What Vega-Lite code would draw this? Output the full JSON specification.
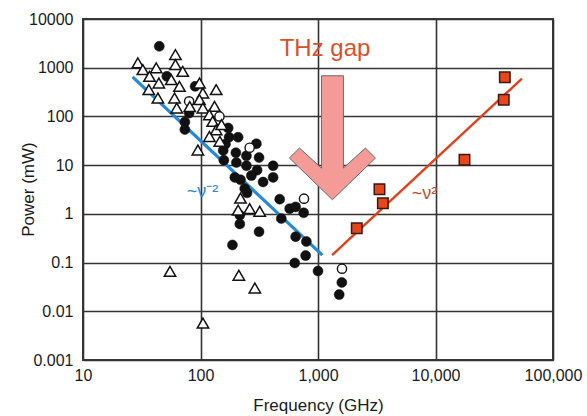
{
  "$schema": "https://vega.github.io/schema/vega-lite/v6.json",
  "width": 470,
  "height": 341,
  "autosize": "none",
  "padding": {"left": 83, "top": 19, "right": 34, "bottom": 56},
  "background": "white",
  "config": {
    "view": {"stroke": "#3a3a3a", "strokeWidth": 2},
    "font": "Liberation Sans",
    "axis": {
      "grid": true, "gridColor": "#333", "gridWidth": 1.6, "gridOpacity": 1,
      "domain": false, "ticks": false, "tickSize": 0,
      "labelFont": "Liberation Sans", "labelFontSize": 16, "labelColor": "#1a1a1a",
      "titleFont": "Liberation Sans", "titleFontSize": 17, "titleFontWeight": "normal", "titleColor": "#1a1a1a"
    }
  },
  "datasets": {
    "lines": [
      {"freq": 26.4, "power": 647, "series": "low"},
      {"freq": 1089, "power": 0.1426, "series": "low"},
      {"freq": 1318, "power": 0.1426, "series": "high"},
      {"freq": 54400, "power": 597, "series": "high"}
    ],
    "arrow": [{"freq": 1327, "power": 36.5}],
    "points": [
      {"freq": 44.6, "power": 2750, "type": "solid"},
      {"freq": 51.7, "power": 665, "type": "solid"},
      {"freq": 90, "power": 414, "type": "solid"},
      {"freq": 80, "power": 117, "type": "solid"},
      {"freq": 73.6, "power": 76.7, "type": "solid"},
      {"freq": 73.6, "power": 53.7, "type": "solid"},
      {"freq": 172, "power": 58, "type": "solid"},
      {"freq": 209, "power": 37.5, "type": "solid"},
      {"freq": 175, "power": 37.5, "type": "solid"},
      {"freq": 163, "power": 27, "type": "solid"},
      {"freq": 299, "power": 27.5, "type": "solid"},
      {"freq": 156, "power": 20, "type": "solid"},
      {"freq": 200, "power": 18, "type": "solid"},
      {"freq": 246, "power": 15.5, "type": "solid"},
      {"freq": 315, "power": 14.3, "type": "solid"},
      {"freq": 158, "power": 12.6, "type": "solid"},
      {"freq": 202, "power": 11.3, "type": "solid"},
      {"freq": 246, "power": 9.7, "type": "solid"},
      {"freq": 303, "power": 7.9, "type": "solid"},
      {"freq": 415, "power": 9.7, "type": "solid"},
      {"freq": 415, "power": 5.6, "type": "solid"},
      {"freq": 196, "power": 5.6, "type": "solid"},
      {"freq": 219, "power": 5.0, "type": "solid"},
      {"freq": 271, "power": 6.1, "type": "solid"},
      {"freq": 341, "power": 4.5, "type": "solid"},
      {"freq": 238, "power": 3.3, "type": "solid"},
      {"freq": 249, "power": 2.7, "type": "solid"},
      {"freq": 472, "power": 2.0, "type": "solid"},
      {"freq": 574, "power": 1.28, "type": "solid"},
      {"freq": 645, "power": 1.39, "type": "solid"},
      {"freq": 755, "power": 1.05, "type": "solid"},
      {"freq": 487, "power": 0.8, "type": "solid"},
      {"freq": 216, "power": 0.94, "type": "solid"},
      {"freq": 216, "power": 0.62, "type": "solid"},
      {"freq": 315, "power": 0.43, "type": "solid"},
      {"freq": 187, "power": 0.23, "type": "solid"},
      {"freq": 645, "power": 0.34, "type": "solid"},
      {"freq": 796, "power": 0.27, "type": "solid"},
      {"freq": 785, "power": 0.139, "type": "solid"},
      {"freq": 634, "power": 0.098, "type": "solid"},
      {"freq": 1000, "power": 0.067, "type": "solid"},
      {"freq": 1595, "power": 0.039, "type": "solid"},
      {"freq": 1515, "power": 0.022, "type": "solid"},
      {"freq": 80, "power": 204, "type": "open"},
      {"freq": 145, "power": 100, "type": "open"},
      {"freq": 262, "power": 22.8, "type": "open"},
      {"freq": 760, "power": 2.05, "type": "open"},
      {"freq": 1600, "power": 0.075, "type": "open"},
      {"freq": 29.3, "power": 1256, "type": "triangle"},
      {"freq": 32.3, "power": 914, "type": "triangle"},
      {"freq": 42, "power": 991, "type": "triangle"},
      {"freq": 36.8, "power": 665, "type": "triangle"},
      {"freq": 44.2, "power": 486, "type": "triangle"},
      {"freq": 36.3, "power": 354, "type": "triangle"},
      {"freq": 43.4, "power": 239, "type": "triangle"},
      {"freq": 61.2, "power": 1862, "type": "triangle"},
      {"freq": 61.2, "power": 1159, "type": "triangle"},
      {"freq": 70.6, "power": 843, "type": "triangle"},
      {"freq": 56.4, "power": 569, "type": "triangle"},
      {"freq": 66.2, "power": 414, "type": "triangle"},
      {"freq": 60.1, "power": 239, "type": "triangle"},
      {"freq": 62.8, "power": 149, "type": "triangle"},
      {"freq": 81, "power": 159, "type": "triangle"},
      {"freq": 98, "power": 486, "type": "triangle"},
      {"freq": 104.8, "power": 303, "type": "triangle"},
      {"freq": 98, "power": 221, "type": "triangle"},
      {"freq": 104.8, "power": 149, "type": "triangle"},
      {"freq": 136, "power": 354, "type": "triangle"},
      {"freq": 131.6, "power": 161, "type": "triangle"},
      {"freq": 119, "power": 108, "type": "triangle"},
      {"freq": 127, "power": 79, "type": "triangle"},
      {"freq": 136, "power": 53, "type": "triangle"},
      {"freq": 151, "power": 68, "type": "triangle"},
      {"freq": 119, "power": 38.8, "type": "triangle"},
      {"freq": 146, "power": 31, "type": "triangle"},
      {"freq": 95, "power": 20.5, "type": "triangle"},
      {"freq": 219, "power": 2.1, "type": "triangle"},
      {"freq": 209, "power": 1.19, "type": "triangle"},
      {"freq": 262, "power": 1.28, "type": "triangle"},
      {"freq": 319, "power": 1.13, "type": "triangle"},
      {"freq": 55, "power": 0.066, "type": "triangle"},
      {"freq": 212, "power": 0.055, "type": "triangle"},
      {"freq": 290, "power": 0.03, "type": "triangle"},
      {"freq": 105, "power": 0.0057, "type": "triangle"},
      {"freq": 2138, "power": 0.506, "type": "square"},
      {"freq": 3335, "power": 3.2, "type": "square"},
      {"freq": 3565, "power": 1.65, "type": "square"},
      {"freq": 17650, "power": 12.9, "type": "square"},
      {"freq": 38900, "power": 634, "type": "square"},
      {"freq": 38100, "power": 221, "type": "square"}
    ],
    "labels": [
      {"freq": 1148, "power": 1717, "text": "THz gap", "kind": "gap"},
      {"freq": 104, "power": 2.26, "text": "~ν⁻²", "kind": "blue"},
      {"freq": 8050, "power": 2.0, "text": "~ν²", "kind": "red"}
    ]
  },
  "encoding": {
    "x": {
      "field": "freq", "type": "quantitative",
      "scale": {"type": "log", "domain": [10, 100000], "nice": false},
      "axis": {
        "values": [10, 100, 1000, 10000, 100000], "format": ",",
        "title": "Frequency (GHz)", "labelPadding": 7, "labelFlush": false,
        "titleX": 235, "titleY": 50, "titleBaseline": "alphabetic", "titleAlign": "center"
      }
    },
    "y": {
      "field": "power", "type": "quantitative",
      "scale": {"type": "log", "domain": [0.001, 10000], "nice": false},
      "axis": {
        "values": [0.001, 0.01, 0.1, 1, 10, 100, 1000, 10000], "format": "~g",
        "title": "Power (mW)", "labelPadding": 10, "labelFlush": false,
        "titleX": -55, "titleY": 170, "titleAngle": 270, "titleAlign": "center", "titleBaseline": "middle"
      }
    }
  },
  "layer": [
    {
      "data": {"name": "lines"},
      "mark": {"type": "line", "strokeCap": "butt"},
      "encoding": {
        "detail": {"field": "series"},
        "color": {"field": "series", "type": "nominal", "scale": {"domain": ["low", "high"], "range": ["#2389d8", "#e0401a"]}, "legend": null},
        "strokeWidth": {"field": "series", "type": "nominal", "scale": {"domain": ["low", "high"], "range": [3.2, 2.4]}, "legend": null}
      }
    },
    {
      "data": {"name": "arrow"},
      "mark": {
        "type": "point",
        "shape": "M-0.177,-1 L0.177,-1 L0.177,0.489 L0.532,0.166 L0.694,0.327 L0,1 L-0.694,0.327 L-0.532,0.166 L-0.177,0.489 Z",
        "size": 15376, "filled": true, "fill": "#f59b97", "stroke": "#6a6a6a", "strokeWidth": 1, "opacity": 1
      }
    },
    {
      "data": {"name": "points"},
      "transform": [{"filter": "datum.type === 'solid'"}],
      "mark": {"type": "point", "shape": "circle", "size": 100, "filled": true, "fill": "#111", "stroke": "#111", "strokeWidth": 0.5, "opacity": 1}
    },
    {
      "data": {"name": "points"},
      "transform": [{"filter": "datum.type === 'open'"}],
      "mark": {"type": "point", "shape": "circle", "size": 85, "filled": false, "fill": "white", "fillOpacity": 1, "stroke": "#111", "strokeWidth": 1.4, "opacity": 1}
    },
    {
      "data": {"name": "points"},
      "transform": [{"filter": "datum.type === 'triangle'"}],
      "mark": {"type": "point", "shape": "triangle-up", "size": 130, "filled": false, "fill": "white", "fillOpacity": 1, "stroke": "#111", "strokeWidth": 1.5, "opacity": 1}
    },
    {
      "data": {"name": "points"},
      "transform": [{"filter": "datum.type === 'square'"}],
      "mark": {"type": "point", "shape": "square", "size": 110, "filled": true, "fill": "#e8451a", "stroke": "#3a1a10", "strokeWidth": 1.5, "opacity": 1}
    },
    {
      "data": {"name": "labels"},
      "transform": [{"filter": "datum.kind === 'gap'"}],
      "mark": {"type": "text", "font": "Liberation Sans", "fontSize": 24, "color": "#d9502a", "align": "center", "baseline": "alphabetic"},
      "encoding": {"text": {"field": "text"}}
    },
    {
      "data": {"name": "labels"},
      "transform": [{"filter": "datum.kind === 'blue'"}],
      "mark": {"type": "text", "font": "Liberation Sans", "fontSize": 18, "color": "#2a86d0", "align": "center", "baseline": "alphabetic"},
      "encoding": {"text": {"field": "text"}}
    },
    {
      "data": {"name": "labels"},
      "transform": [{"filter": "datum.kind === 'red'"}],
      "mark": {"type": "text", "font": "Liberation Sans", "fontSize": 18, "color": "#b8502f", "align": "center", "baseline": "alphabetic"},
      "encoding": {"text": {"field": "text"}}
    }
  ]
}
